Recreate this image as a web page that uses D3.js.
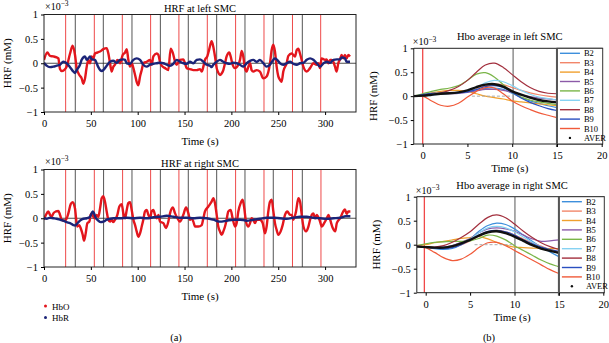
<!DOCTYPE html>
<html>
<head>
<meta charset="utf-8">
<script src="https://cdn.jsdelivr.net/npm/d3@7"></script>
<style>
  body { margin: 0; background: #fff; }
  svg { font-family: "Liberation Serif", "DejaVu Serif", serif; }
</style>
</head>
<body>
<div id="plot"></div>
<script>
// ---- data (values in units of 1e-3 mM) ----
var timeTicksA = [0, 50, 100, 150, 200, 250, 300];
var hrfTicks = [-1, -0.5, 0, 0.5, 1];

// left SMC, [time (s), value]
var leftHbO = [[0,0.07],[3.6,0.22],[6.4,0.15],[10,0.14],[13.5,0.12],[15.3,0.10],[17.1,-0.12],[18.9,-0.16],[21.4,-0.14],[24.2,-0.07],[27.8,0.2],[30.6,0.36],[33.1,0.17],[34.9,-0.1],[37.7,-0.24],[40.2,-0.31],[42,-0.42],[43.8,-0.31],[45.6,-0.07],[47.3,0.07],[49.1,0],[50.9,0.14],[52.7,0.1],[54.4,0.2],[56.9,0.22],[59.8,0.24],[63.3,0.29],[66.9,0.31],[68.7,0.2],[70.5,0],[72.2,-0.17],[74,-0.07],[75.8,-0.03],[78.3,0.07],[81.1,0],[84,0.17],[86.5,0.22],[88.3,0.29],[90,0.07],[91.8,-0.07],[93.6,0],[95.4,-0.1],[97.2,-0.24],[98.9,-0.38],[100.7,-0.45],[102.5,-0.27],[104.3,-0.14],[106,0],[109.6,0.03],[113.2,0.07],[114.9,-0.03],[116.7,0.14],[120.3,0.2],[122.1,0.17],[123.8,0.03],[125.6,-0.05],[129.2,-0.1],[132.7,-0.14],[135.2,0.3],[137.4,0.22],[139.9,0.03],[141.6,-0.03],[145.1,0.07],[148.7,0.08],[150.5,0],[152.3,-0.1],[155.8,-0.12],[159.4,-0.14],[163,-0.14],[166.5,-0.12],[168.3,-0.17],[170.1,-0.07],[171.8,0.07],[174.3,0.14],[176.4,0.29],[178.9,0.45],[180.7,0.34],[182.5,0.14],[184.3,-0.1],[186,-0.19],[187.8,-0.24],[189.6,-0.21],[191.4,-0.14],[193.2,0],[194.9,0.14],[197.8,0.22],[199.2,0.14],[201.3,-0.03],[203.8,-0.1],[207.4,-0.03],[209.2,0.07],[211,0.25],[212.7,0.14],[214.5,-0.1],[216.3,-0.17],[218.1,-0.07],[219.9,0],[221.6,-0.14],[223.4,-0.17],[227,-0.14],[230.5,-0.17],[234,-0.31],[237.6,-0.27],[241.2,0],[243,0.27],[244.8,0.38],[246.5,0.24],[248.3,-0.07],[250.1,-0.27],[251.9,-0.34],[253.6,-0.38],[255.4,-0.17],[259,0],[260.8,0.15],[264.3,0.2],[267.9,0.14],[269.7,0.27],[271.4,0.3],[273.2,0.2],[275,0.07],[276.8,-0.07],[280.3,-0.17],[283.9,-0.1],[287.5,0],[291,-0.03],[292.8,0],[294.6,-0.1],[296.3,0.1],[299.9,0.07],[301.7,0.08],[303.5,0],[305.3,0.07],[307,0.07],[308.8,0.03],[310.6,-0.07],[312.3,-0.17],[314.1,0],[315.9,0.08],[317.7,0.17],[319.4,0.1],[321.2,0.17],[323,0.1],[324.8,0.17],[326.6,0.14]];
var leftHbR = [[0,0.01],[2.8,-0.05],[6.4,-0.08],[10,-0.07],[13.5,-0.05],[17.1,-0.03],[20.6,0.03],[24.2,0],[27.8,-0.08],[31.3,-0.17],[33.1,-0.2],[34.9,-0.14],[38.4,-0.03],[40.2,0.07],[43.8,0.14],[45.6,0.07],[47.3,0.1],[49.1,0.14],[50.9,0.08],[54.4,0.07],[56.2,0],[58,-0.08],[61.6,-0.16],[63.3,-0.14],[66.9,-0.05],[70.5,0.03],[74,0.05],[77.6,0.01],[81.1,0.07],[84.7,0.08],[86.5,0.07],[88.3,0],[91.8,-0.01],[95.4,0.07],[99,0.1],[102.5,0.07],[106,-0.03],[109.6,-0.07],[113.2,-0.03],[116.7,-0.01],[120.3,0],[123.8,0.01],[127.4,0],[131,-0.03],[134.5,-0.05],[138.1,-0.01],[141.6,0.07],[145.2,0.03],[148.8,0],[152.3,-0.01],[155.8,0.03],[159.4,0],[163,0.07],[166.5,0.08],[170.1,0.03],[173.7,-0.03],[177.2,-0.05],[179,-0.08],[180.7,-0.03],[184.3,0.03],[187.8,0.07],[191.4,0.03],[194.9,0],[198.5,-0.01],[202,0.01],[205.6,0],[209.2,-0.03],[212.7,-0.07],[216.3,0],[219.9,0.05],[223.4,0.07],[227,0.03],[230.5,0.07],[234.1,0],[237.6,-0.07],[241.2,-0.03],[244.8,0.07],[246.5,0.1],[248.3,0.08],[251.9,0],[255.4,-0.03],[259,0],[262.6,0.03],[266.2,-0.01],[269.7,-0.03],[273.3,0],[276.9,0.01],[280.4,0.07],[284,0.1],[287.5,0.07],[291.1,0],[294.7,-0.07],[298.3,0],[301.8,0.03],[305.4,0.01],[309,0.07],[312.5,0.08],[316.1,0.08],[317.7,0.12],[321.2,0.1],[323,0.03],[326.6,0.03]];

// right SMC
var rightHbO = [[0,-0.03],[2.1,0.07],[4.6,0.14],[6.4,0.07],[8.2,0.03],[10,0.1],[12.8,0.14],[15.3,0.15],[17.1,0.07],[18.9,-0.03],[21.4,-0.05],[23.5,-0.03],[26,0.1],[28.5,0.29],[30.6,0.33],[33.1,0.2],[34.2,0],[35.6,-0.17],[37.7,-0.14],[39.1,-0.2],[41.3,-0.34],[42.7,-0.46],[44.5,-0.31],[46.3,-0.1],[48.4,-0.07],[49.8,0.07],[51.2,0.1],[52.7,0.03],[54.4,0],[56.2,0.07],[58,0.03],[59.8,0.2],[61.6,0.41],[63.3,0.45],[65.1,0.34],[66.9,0.14],[68.7,-0.03],[70.5,-0.07],[72.2,-0.03],[74,-0.08],[75.8,-0.03],[78.3,0.07],[80.4,0.24],[82.9,0.29],[84.7,0.1],[86.5,0],[88.3,0.17],[90,0.31],[91.8,0.33],[93.6,0.17],[95.4,-0.03],[97.2,-0.14],[98.9,-0.27],[100.7,-0.38],[102.5,-0.31],[104.3,-0.17],[106,-0.03],[107.8,0.14],[109.6,0.17],[111.4,0.07],[113.2,0],[114.9,0.14],[116.7,0.17],[118.5,0.07],[120.3,0],[122.1,0.07],[123.8,-0.07],[127.4,-0.1],[130.2,-0.2],[132.7,-0.07],[134.5,0.1],[137.4,0.22],[139.9,0.1],[141.6,0.03],[145.1,-0.07],[148.7,0.07],[151.6,0.22],[154.1,0.1],[155.8,-0.03],[157.6,0],[159.4,-0.07],[161.2,-0.17],[164.7,-0.17],[168.3,-0.14],[170.1,0],[171.8,0.14],[175.4,0.24],[178.9,0.34],[180.7,0.41],[182.5,0.31],[184.3,0.07],[186,-0.17],[187.8,-0.27],[189.6,-0.34],[191.4,-0.27],[193.2,-0.17],[194.9,-0.03],[196.7,0.14],[199.2,0.17],[201.3,0],[203.8,-0.17],[205.6,-0.1],[207.4,0.14],[209.9,0.31],[212,0.38],[213.8,0.2],[215.6,-0.07],[218.1,-0.17],[219.9,-0.1],[221.6,0],[223.4,-0.03],[225.2,-0.1],[227,-0.03],[230.5,-0.03],[233.4,-0.1],[235.9,-0.31],[237.6,-0.17],[239.4,0.14],[241.2,0.34],[243,0.38],[244.8,0.14],[246.5,-0.1],[248.3,-0.24],[250.1,-0.34],[252.6,-0.27],[254.7,-0.14],[257.2,0.07],[259.7,0.14],[262.6,0.07],[264.4,0.07],[266.2,-0.03],[269,0.14],[271.5,0.41],[273.3,0.34],[275.1,0.07],[276.9,-0.17],[279.7,-0.27],[282.2,-0.17],[284,-0.03],[285.8,0.07],[287.5,0.1],[289.3,0],[291.1,0.07],[294,-0.03],[296.5,-0.17],[299,-0.1],[301.8,0],[303.6,0.07],[305.4,-0.03],[308.2,-0.2],[310.8,-0.27],[312.5,-0.1],[316.1,0],[319.4,0.14],[321.2,0.18],[323,0.09],[324.8,0.14],[327,0.14]];
var rightHbR = [[0,0],[2.8,-0.01],[6.4,0.01],[10,0],[13.5,-0.01],[17.1,-0.03],[20.6,-0.05],[24.2,-0.08],[27.8,-0.1],[31.3,-0.14],[33.1,-0.15],[34.9,-0.12],[38.4,-0.05],[42,-0.01],[45.6,0],[49.1,0.03],[52,0.14],[53.4,0.1],[55.5,0],[58,-0.05],[60.5,-0.08],[63.3,-0.07],[66.9,-0.03],[70.5,-0.01],[74,0],[81.1,0],[88.3,0.01],[95.4,0],[102.5,0.01],[109.6,0],[116.7,0.02],[123.8,0.03],[131,0.05],[138,0.03],[145.2,0.01],[152.3,0.01],[159.4,0],[166.5,0.01],[173.7,0],[180.7,-0.03],[187.8,-0.07],[194.9,-0.05],[202,-0.03],[209.2,-0.03],[216.3,-0.05],[223.4,-0.03],[230.5,-0.01],[237.6,0.01],[244.8,0.01],[251.9,0],[259,-0.01],[266.2,0.01],[273.3,0.03],[280.4,0.03],[287.5,0.01],[294.7,0],[301.8,-0.01],[309,0],[316.1,0.01],[322,0.04],[327,0.04]];

// stimulus onsets (red) and offsets (black)
var leftOnsets = [23.1, 53.7, 83.6, 113.8, 144, 174.3, 204.5, 234.8, 265.2, 295.3];
var leftOffsets = [33.4, 63.3, 93.9, 124.2, 154, 184.3, 214.5, 244.7, 275.7];
var rightOnsets = [23.1, 53.7, 83.9, 113.8, 144, 174.3, 204.5, 234.8, 265.2, 295.6];
var rightOffsets = [33.4, 63.6, 93.9, 124.2, 154, 184.3, 214.5, 244.7, 275.7];

// block averages
var blockNames = ['B2', 'B3', 'B4', 'B5', 'B6', 'B7', 'B8', 'B9', 'B10'];
var blockColors = ['#3d8fdc', '#f2866a', '#f0a02e', '#8c5aa8', '#7ab548', '#86d2f2', '#a3303e', '#2a4fc0', '#f05a3a'];
var avgTime = [-1, 0, 1, 2, 3, 4, 5, 6, 7, 8, 9, 10, 11, 12, 13, 14, 15];
var avgTicksX = [0, 5, 10, 15, 20];

var avgLeft = [
  [0, 0.0, 0.04, 0.06, 0.07, 0.08, 0.1, 0.13, 0.16, 0.17, 0.14, 0.06, -0.03, -0.1, -0.15, -0.2, -0.24],
  [0, 0.02, 0.05, 0.06, 0.06, 0.07, 0.1, 0.16, 0.22, 0.25, 0.24, 0.18, 0.12, 0.07, 0.03, 0.0, -0.02],
  [0, 0.03, 0.07, 0.1, 0.12, 0.12, 0.1, 0.05, 0.0, -0.03, -0.06, -0.1, -0.12, -0.14, -0.16, -0.18, -0.2],
  [0, 0.01, 0.03, 0.04, 0.05, 0.06, 0.08, 0.11, 0.14, 0.14, 0.12, 0.08, 0.03, -0.01, -0.04, -0.06, -0.08],
  [0, 0.05, 0.1, 0.14, 0.17, 0.22, 0.33, 0.46, 0.49, 0.4, 0.24, 0.08, -0.02, -0.08, -0.12, -0.15, -0.18],
  [0, 0.0, 0.02, 0.04, 0.06, 0.07, 0.1, 0.18, 0.28, 0.33, 0.3, 0.22, 0.12, 0.04, -0.02, -0.05, -0.08],
  [0, 0.02, 0.04, 0.07, 0.12, 0.2, 0.33, 0.5, 0.65, 0.69, 0.6, 0.45, 0.3, 0.18, 0.1, 0.06, 0.05],
  [0, 0.03, 0.06, 0.06, 0.06, 0.07, 0.09, 0.14, 0.2, 0.22, 0.18, 0.08, -0.04, -0.13, -0.2, -0.26, -0.3],
  [0, 0.0, -0.1, -0.19, -0.21, -0.15, -0.02, 0.1, 0.18, 0.17, 0.05, -0.1, -0.2, -0.28, -0.35, -0.4, -0.45]
];
var avgLeftMean = [0, 0.01, 0.03, 0.05, 0.06, 0.08, 0.12, 0.19, 0.24, 0.25, 0.2, 0.1, 0.03, -0.03, -0.08, -0.11, -0.13];

var avgRight = [
  [-0.03, -0.05, -0.08, -0.1, -0.08, 0.0, 0.12, 0.28, 0.4, 0.45, 0.42, 0.33, 0.2, 0.07, -0.05, -0.15, -0.25],
  [-0.03, -0.05, -0.07, -0.07, -0.05, 0.0, 0.08, 0.18, 0.27, 0.3, 0.27, 0.2, 0.12, 0.04, -0.03, -0.1, -0.15],
  [-0.02, 0.0, 0.04, 0.07, 0.1, 0.13, 0.15, 0.17, 0.12, 0.05, -0.01, -0.05, -0.06, -0.07, -0.08, -0.08, -0.08],
  [-0.03, -0.05, -0.06, -0.05, -0.02, 0.05, 0.13, 0.25, 0.33, 0.35, 0.33, 0.28, 0.2, 0.12, 0.07, 0.08, 0.1],
  [-0.02, 0.02, 0.05, 0.06, 0.07, 0.07, 0.08, 0.13, 0.2, 0.18, 0.1, -0.02, -0.12, -0.22, -0.32, -0.4, -0.46],
  [-0.03, -0.05, -0.07, -0.06, -0.03, 0.03, 0.12, 0.25, 0.35, 0.38, 0.35, 0.27, 0.16, 0.05, -0.05, -0.12, -0.18],
  [-0.03, -0.05, -0.05, -0.02, 0.05, 0.15, 0.27, 0.43, 0.57, 0.62, 0.56, 0.43, 0.28, 0.15, 0.04, -0.04, -0.1],
  [-0.03, -0.05, -0.07, -0.08, -0.06, 0.0, 0.1, 0.2, 0.28, 0.3, 0.27, 0.2, 0.1, 0.02, -0.05, -0.1, -0.14],
  [-0.03, -0.06, -0.16, -0.27, -0.33, -0.3, -0.2, -0.06, 0.04, 0.05, -0.02, -0.12, -0.22, -0.32, -0.42, -0.52, -0.6]
];
var avgRightMean = [-0.04, -0.05, -0.06, -0.06, -0.03, 0.03, 0.1, 0.19, 0.26, 0.28, 0.24, 0.17, 0.08, -0.01, -0.08, -0.13, -0.17];


var svg = d3.select("#plot").append("svg")
  .attr("width", 609)
  .attr("height", 343);

var fmt = function(d) { return d === 0 ? "0" : d3.format("~g")(d); };

// "x10^-3" multiplier label
function multiplier(x, y) {
  var t = svg.append("text")
    .attr("x", x).attr("y", y)
    .style("font-size", "10px");
  t.append("tspan").text("×10");
  t.append("tspan").attr("dy", -3.5).style("font-size", "7.5px").text("−3");
}

function drawTimeSeries(top, bottom, hbo, hbr, onsets, offsets, title, uid) {
  var x = d3.scaleLinear().domain([0, 333]).range([44, 356]);
  var y = d3.scaleLinear().domain([-1, 1]).range([bottom, top]);

  svg.append("clipPath").attr("id", "clip" + uid)
    .append("rect").attr("x", 44).attr("y", top).attr("width", 312).attr("height", bottom - top);

  var g = svg.append("g").attr("clip-path", "url(#clip" + uid + ")");

  g.selectAll("line.on").data(onsets).enter().append("line")
    .attr("x1", d => x(d)).attr("x2", d => x(d))
    .attr("y1", top).attr("y2", bottom)
    .style("stroke", "#ee4a4a").style("stroke-width", 1);
  g.selectAll("line.off").data(offsets).enter().append("line")
    .attr("x1", d => x(d)).attr("x2", d => x(d))
    .attr("y1", top).attr("y2", bottom)
    .style("stroke", "#555").style("stroke-width", 1);

  g.append("line")
    .attr("x1", 44).attr("x2", 356)
    .attr("y1", y(0)).attr("y2", y(0))
    .style("stroke", "#222").style("stroke-width", 0.8);

  var line = d3.line()
    .x(d => x(d[0]))
    .y(d => y(d[1]))
    .curve(d3.curveMonotoneX);

  g.append("path").datum(hbo).attr("d", line)
    .style("fill", "none").style("stroke", "#e3161d").style("stroke-width", 2.4);
  g.append("path").datum(hbr).attr("d", line)
    .style("fill", "none").style("stroke", "#1b2478").style("stroke-width", 2.4);

  svg.append("rect")
    .attr("x", 44).attr("y", top).attr("width", 312).attr("height", bottom - top)
    .style("fill", "none").style("stroke", "#222").style("stroke-width", 1);

  svg.append("g")
    .attr("transform", `translate(0, ${bottom})`)
    .call(d3.axisBottom(x).tickValues(timeTicksA).tickSize(3).tickSizeOuter(0))
    .call(a => a.select(".domain").remove())
    .selectAll("text").style("font-size", "10.5px").style("font-family", "Liberation Serif").attr("dy", "0.9em");

  svg.append("g")
    .attr("transform", "translate(44, 0)")
    .call(d3.axisLeft(y).tickValues(hrfTicks).tickFormat(fmt).tickSize(3).tickSizeOuter(0))
    .call(a => a.select(".domain").remove())
    .selectAll("text").style("font-size", "10.5px").style("font-family", "Liberation Serif");

  svg.append("text")
    .attr("x", 200).attr("y", top - 3)
    .style("text-anchor", "middle").style("font-size", "10.5px")
    .text(title);

  svg.append("text")
    .attr("x", 200).attr("y", bottom + 33)
    .style("text-anchor", "middle").style("font-size", "11px")
    .text("Time (s)");

  svg.append("text")
    .attr("transform", `translate(11, ${(top + bottom) / 2}) rotate(-90)`)
    .style("text-anchor", "middle").style("font-size", "11px")
    .text("HRF (mM)");

  multiplier(45, top - 5);
}

function drawAverage(top, bottom, x0, x20, vals, mean, onset, offset, title, uid) {
  var x = d3.scaleLinear().domain([0, 20]).range([x0, x20]);
  var xl = x(-1);
  var y = d3.scaleLinear().domain([-1, 1]).range([bottom, top]);

  svg.append("clipPath").attr("id", "clip" + uid)
    .append("rect").attr("x", xl).attr("y", top).attr("width", x(15) - xl).attr("height", bottom - top);
  var g = svg.append("g").attr("clip-path", "url(#clip" + uid + ")");

  g.append("line")
    .attr("x1", x(onset)).attr("x2", x(onset)).attr("y1", top).attr("y2", bottom)
    .style("stroke", "#f04848").style("stroke-width", 1.3);
  g.append("line")
    .attr("x1", x(offset)).attr("x2", x(offset)).attr("y1", top).attr("y2", bottom)
    .style("stroke", "#666").style("stroke-width", 1.1);

  var line = d3.line()
    .x((d, i) => x(avgTime[i]))
    .y(d => y(d))
    .curve(d3.curveCatmullRom);

  g.selectAll("path.blk").data(vals).enter().append("path")
    .attr("d", line)
    .style("fill", "none")
    .style("stroke", (d, i) => blockColors[i])
    .style("stroke-width", 1.2);

  g.append("line")
    .attr("x1", x(5.5)).attr("x2", x(10)).attr("y1", y(0)).attr("y2", y(0))
    .style("stroke", "#aaa").style("stroke-width", 1).style("stroke-dasharray", "3,2");

  g.append("path").datum(mean).attr("d", line)
    .style("fill", "none").style("stroke", "#111").style("stroke-width", 2.4);

  // axes box
  svg.append("line").attr("x1", xl).attr("x2", xl).attr("y1", top).attr("y2", bottom)
    .style("stroke", "#222");
  svg.append("line").attr("x1", xl).attr("x2", x20 + 1).attr("y1", top).attr("y2", top)
    .style("stroke", "#222");
  svg.append("line").attr("x1", xl).attr("x2", x20 + 1).attr("y1", bottom).attr("y2", bottom)
    .style("stroke", "#222");

  // legend
  var lx = x(15);
  svg.append("rect")
    .attr("x", lx).attr("y", top).attr("width", x20 + 1 - lx).attr("height", bottom - top)
    .style("fill", "#fff").style("stroke", "#333").style("stroke-width", 1);
  svg.append("line").attr("x1", lx).attr("x2", lx).attr("y1", top).attr("y2", bottom + 3)
    .style("stroke", "#555").style("stroke-width", 2);

  var rowH = 9.4;
  var items = blockNames.concat(["AVER"]);
  items.forEach(function(name, i) {
    var yy = top + 5 + rowH * i;
    if (i < blockNames.length) {
      svg.append("line").attr("x1", lx + 3).attr("x2", lx + 23).attr("y1", yy).attr("y2", yy)
        .style("stroke", blockColors[i]).style("stroke-width", 1.4);
    } else {
      svg.append("circle").attr("cx", lx + 13).attr("cy", yy).attr("r", 1.2).style("fill", "#111");
    }
    svg.append("text").attr("x", lx + 27).attr("y", yy + 3)
      .style("font-size", "8.5px").text(name);
  });

  svg.append("g")
    .attr("transform", `translate(0, ${bottom})`)
    .call(d3.axisBottom(x).tickValues(avgTicksX).tickSize(3).tickSizeOuter(0))
    .call(a => a.select(".domain").remove())
    .selectAll("text").style("font-size", "10.5px").style("font-family", "Liberation Serif").attr("dy", "0.9em");

  svg.append("g")
    .attr("transform", `translate(${xl}, 0)`)
    .call(d3.axisLeft(y).tickValues(hrfTicks).tickFormat(fmt).tickSize(3).tickSizeOuter(0))
    .call(a => a.select(".domain").remove())
    .selectAll("text").style("font-size", "10.5px").style("font-family", "Liberation Serif");

  svg.append("text")
    .attr("x", (xl + x20) / 2 + 2).attr("y", top - 8)
    .style("text-anchor", "middle").style("font-size", "10.5px")
    .text(title);

  svg.append("text")
    .attr("x", (xl + x20) / 2 + 2).attr("y", bottom + 28)
    .style("text-anchor", "middle").style("font-size", "11px")
    .text("Time (s)");

  svg.append("text")
    .attr("transform", `translate(${xl - 37}, ${(top + bottom) / 2}) rotate(-90)`)
    .style("text-anchor", "middle").style("font-size", "11px")
    .text("HRF (mM)");

  multiplier(xl - 1, top - 3);
}

drawTimeSeries(14.5, 112, leftHbO, leftHbR, leftOnsets, leftOffsets, "HRF at left SMC", "a1");
drawTimeSeries(169.5, 267, rightHbO, rightHbR, rightOnsets, rightOffsets, "HRF at right SMC", "a2");

drawAverage(48.3, 144, 422.7, 601.7, avgLeft, avgLeftMean, 0, 10.1, "Hbo average in left SMC", "b1");
drawAverage(196.7, 292.7, 425.7, 603.3, avgRight, avgRightMean, -0.15, 10.05, "Hbo average in right SMC", "b2");

// legend for panel (a)
var legA = [["HbO", "#e3161d"], ["HbR", "#1b2478"]];
legA.forEach(function(d, i) {
  var yy = 306 + i * 11.5;
  svg.append("circle").attr("cx", 45.5).attr("cy", yy).attr("r", 1.5).style("fill", d[1]);
  svg.append("text").attr("x", 52).attr("y", yy + 3.5).style("font-size", "9px").text(d[0]);
});

svg.append("text").attr("x", 176).attr("y", 341).style("text-anchor", "middle").style("font-size", "10.5px").text("(a)");
svg.append("text").attr("x", 489).attr("y", 341).style("text-anchor", "middle").style("font-size", "10.5px").text("(b)");
</script>
</body>
</html>
